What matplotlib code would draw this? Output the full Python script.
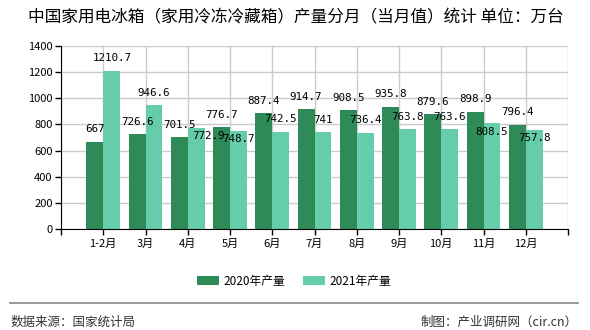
import matplotlib
matplotlib.use("Agg")
import matplotlib.pyplot as plt
import numpy as np
from matplotlib.patches import Patch
from matplotlib.lines import Line2D

plt.rcParams['font.family'] = ['Noto Sans CJK SC', 'DejaVu Sans']

# Data
months = ["1-2月", "3月", "4月", "5月", "6月", "7月", "8月", "9月", "10月", "11月", "12月"]
prod_2020 = [667, 726.6, 701.5, 776.7, 887.4, 914.7, 908.5, 935.8, 879.6, 898.9, 796.4]
prod_2021 = [1210.7, 946.6, 772.9, 748.7, 742.5, 741, 736.4, 763.8, 763.6, 808.5, 757.8]
series_names = ["2020年产量", "2021年产量"]

title = "中国家用电冰箱（家用冷冻冷藏箱）产量分月（当月值）统计 单位：万台"
source_text = "数据来源：国家统计局"
credit_text = "制图：产业调研网（cir.cn）"

# Styling
colors = ["#2E8B57", "#66CDAA"]
bar_w = 0.4
# label offsets (points) where the chart pushed labels off their default spot
label_shift = {(1, 2): (8.5, -6), (1, 3): (0, -6), (1, 9): (-0.5, -6.5), (1, 10): (0, -6)}

fig = plt.figure(figsize=(5.9, 3.3), dpi=100)
ax = fig.add_axes([61 / 590, 1 - 229 / 330, 507 / 590, 183 / 330])

x = np.arange(len(months))
for s, vals in enumerate([prod_2020, prod_2021]):
    xs = x + (s - 0.5) * bar_w
    ax.bar(xs, vals, width=bar_w, color=colors[s], zorder=2)
    for i, v in enumerate(vals):
        dx, dy = label_shift.get((s, i), (0, 9))
        ax.annotate(f"{v:g}", (xs[i], v), xytext=(dx, dy), textcoords="offset points",
                    ha="center", va="center", fontsize=7.8, family="DejaVu Sans Mono",
                    color="black", zorder=3)

ax.set_xlim(-1, len(months))
ax.set_ylim(0, 1400)
ax.set_yticks(range(0, 1401, 200))
ax.set_xticks(list(range(-1, len(months) + 1)))
ax.set_xticklabels([""] + months + [""], fontsize=8)
ax.tick_params(axis="y", labelsize=8, length=4, width=1, color="black", pad=2)
ax.tick_params(axis="x", length=4, width=1, color="black", pad=3)
ax.grid(True, color="#cccccc", linewidth=1, zorder=0)
ax.set_axisbelow(True)
for side in ["top", "right"]:
    ax.spines[side].set_visible(False)
ax.spines["left"].set_color("black")
ax.spines["bottom"].set_color("black")

# Title
fig.text(28 / 590, 1 - 18 / 330, title, fontsize=12, va="center", ha="left", color="black")

# Legend
handles = [Patch(facecolor=c, edgecolor="none") for c in colors]
fig.legend(handles, series_names, loc="center", bbox_to_anchor=(294 / 590, 1 - 281 / 330),
           ncol=2, frameon=False, fontsize=8.5, handlelength=1.9, handleheight=0.8,
           handletextpad=0.35, columnspacing=1.5)

# Footer
fig.add_artist(Line2D([10 / 590, 578 / 590], [1 - 303 / 330, 1 - 303 / 330],
                      color="#888888", linewidth=1.2, transform=fig.transFigure))
fig.text(11 / 590, 1 - 322 / 330, source_text, fontsize=9, va="center", ha="left", color="#333333")
fig.text(578 / 590, 1 - 322 / 330, credit_text, fontsize=9, va="center", ha="right", color="#333333")

fig.savefig("out.png", dpi=100)
